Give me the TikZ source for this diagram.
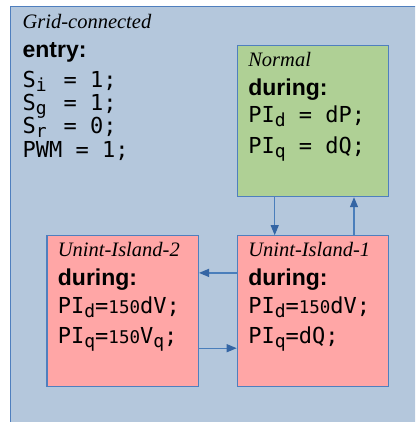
\documentclass[tikz,border=0pt]{standalone}
\usepackage{fontspec}
\setsansfont{Liberation Sans}
\newfontfamily\codefont{DejaVu Sans Mono}
\newfontfamily\titlefont{Liberation Serif}
\usetikzlibrary{positioning}
\usetikzlibrary{arrows.meta}

\definecolor{bgblue}{HTML}{B4C7DC}
\definecolor{edgeblue}{HTML}{4F7FBE}
\definecolor{normgreen}{HTML}{AFD095}
\definecolor{islpink}{HTML}{FFA6A6}
\definecolor{lineblue}{HTML}{4A7EBB}
\definecolor{tipblue}{HTML}{3465A4}

\newcommand\sname[1]{{\titlefont\itshape\fontsize{20.5}{29}\selectfont #1}}
\newcommand\act[1]{{\sffamily\bfseries\fontsize{23}{29}\selectfont #1}}
\newcommand\sub[1]{\raisebox{-4pt}{\fontsize{18}{18}\selectfont #1}}
\newcommand\lownum[1]{{\fontsize{17.5}{17.5}\selectfont #1}}
\newcommand\lhs[1]{\makebox[41pt][l]{#1}}
\newcommand\gap{\hphantom{0}}

\begin{document}
\begin{tikzpicture}[x=1pt,y=-1pt,->,>={Triangle[length=10pt,width=8pt,color=tipblue]},
    state/.style={rectangle,draw=edgeblue,line width=1.2pt,anchor=north west,align=left,
      inner xsep=11pt,inner ysep=0pt,text height=21pt,text depth=130pt,text width=129.5pt,
      font=\codefont\fontsize{22}{29}\selectfont},
    outer/.style={state,fill=bgblue,inner xsep=12pt,text height=22pt,text depth=408pt,text width=396pt},
    flow/.style={color=lineblue,line width=1.2pt}]
  \useasboundingbox (0,0) rectangle (415,422);
  \clip (0,0) rectangle (415,422);

  \node[outer] (grid) at (10,6) {\sname{Grid-connected}\\
    \act{entry:}\\[1pt]
    \lhs{S\sub{i}}=\gap1;\\[-6pt]
    \lhs{S\sub{g}}=\gap1;\\[-6pt]
    \lhs{S\sub{r}}=\gap0;\\[-5pt]
    PWM\gap=\gap1;};

  \node[state,fill=normgreen] (normal) at (236.7,45) {\sname{Normal}\\
    \act{during:}\\[-2pt]
    PI\sub{d}\gap=\gap dP;\\[2pt]
    PI\sub{q}\gap=\gap dQ;};
  \node[state,fill=islpink,below=38pt of normal] (isl1) {\sname{Unint-Island-1}\\
    \act{during:}\\[-1pt]
    PI\sub{d}=\lownum{150}dV;\\[1pt]
    PI\sub{q}=dQ;};
  \node[state,fill=islpink,left=37.7pt of isl1] (isl2) {\sname{Unint-Island-2}\\
    \act{during:}\\[-1pt]
    PI\sub{d}=\lownum{150}dV;\\[1pt]
    PI\sub{q}=\lownum{150}V\sub{q};};

  \path[flow]
  ([xshift=38pt]normal.south west) edge ([xshift=38pt]isl1.north west)
  ([xshift=117.3pt]isl1.north west) edge ([xshift=117.3pt]normal.south west)
  ([yshift=-37.7pt]isl1.north west) edge ([yshift=-37.7pt]isl2.north east)
  ([yshift=-113pt]isl2.north east) edge ([yshift=-113pt]isl1.north west);
\end{tikzpicture}
\end{document}
